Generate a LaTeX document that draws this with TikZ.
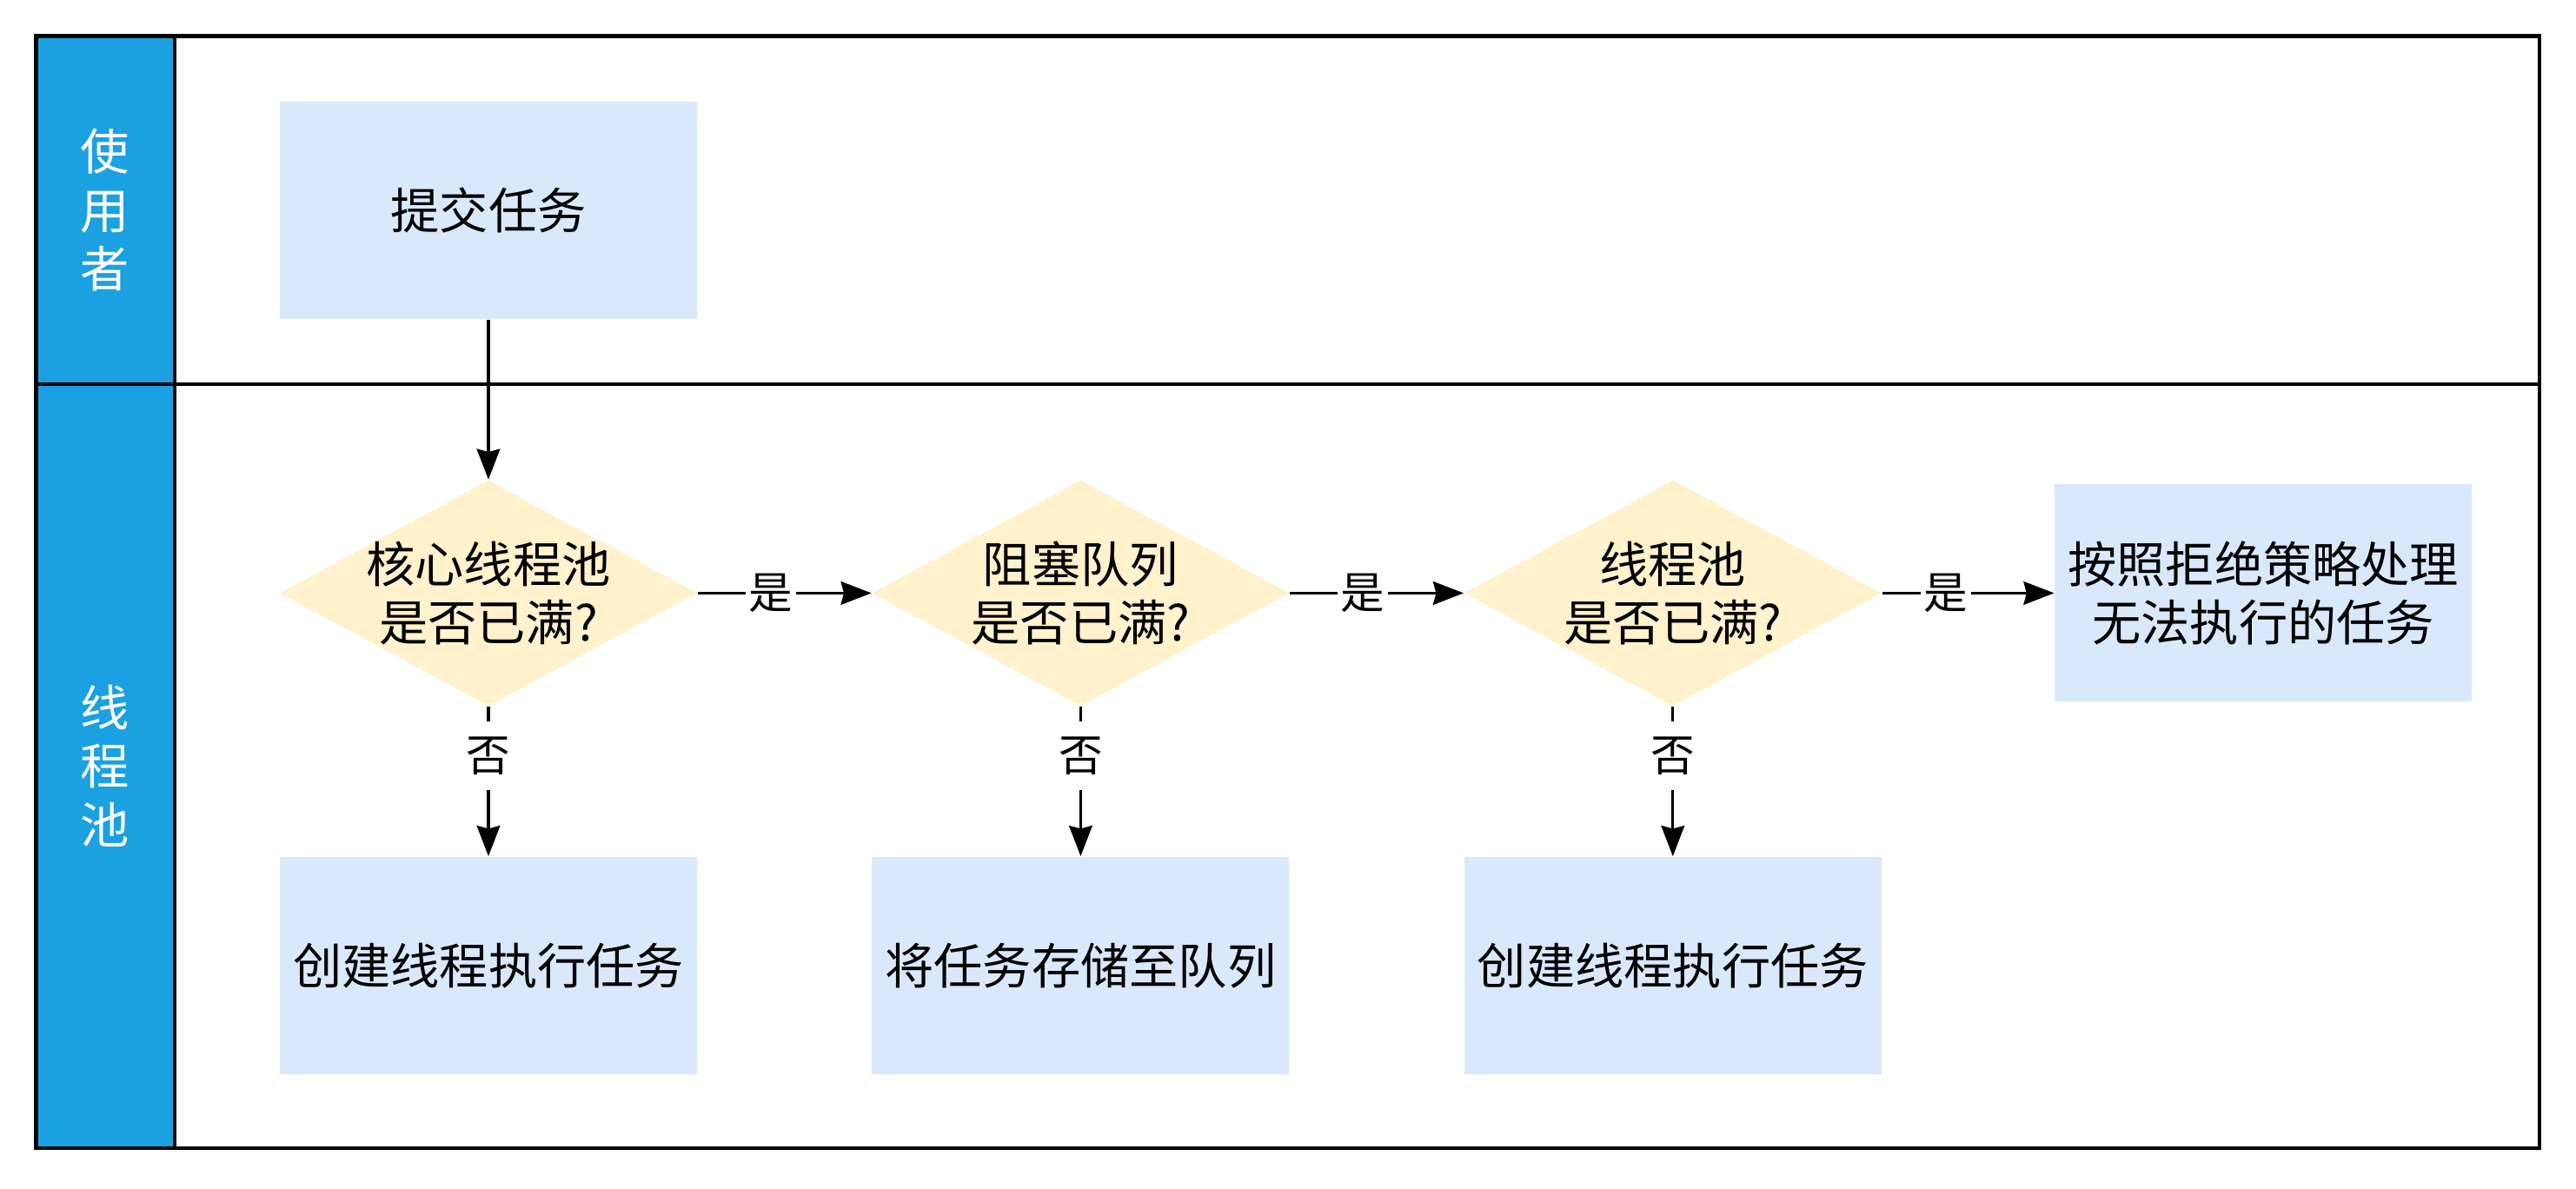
\documentclass[tikz,border=0pt]{standalone}
\usepackage{fontspec}
\setmainfont{Noto Sans CJK SC}
\usetikzlibrary{positioning,shapes.geometric,arrows.meta}

\definecolor{laneblue}{HTML}{1BA1E2}
\definecolor{taskfill}{HTML}{DAE8FC}
\definecolor{askfill}{HTML}{FFF2CC}

\begin{document}
\begin{tikzpicture}
        [font=\fontsize{16pt}{19.2pt}\selectfont,
        node distance=2cm,
        task/.style={rectangle, fill=taskfill, minimum width=4.8cm, minimum height=2.5cm, align=center, inner sep=0pt},
        ask/.style={diamond, fill=askfill, minimum width=4.8cm, minimum height=2.6cm, inner sep=0pt},
        lane/.style={text=white, align=center},
        flow/.style={-{Stealth[length=10pt,width=7.6pt,inset=1pt]}, line width=0.9pt},
        answer/.style={fill=white, font=\fontsize{14.4pt}{16pt}\selectfont, inner xsep=1pt, inner ysep=5pt},
        ]
        \useasboundingbox (0,0) rectangle (29.64,-13.68);
        % swimlanes
        \fill[laneblue] (0.416,-0.416) rectangle (2.01,-13.21);
        \draw[line width=1.2pt] (0.416,-0.416) rectangle (29.22,-13.21);
        \draw[line width=1.2pt] (2.01,-0.416) -- (2.01,-13.21);
        \draw[line width=1.2pt] (0.416,-4.42) -- (29.22,-4.42);
        \node[lane] (user) at (1.21,-2.42) {使\\用\\者};
        \node[lane] (pool) at (1.21,-8.81) {线\\程\\池};

        \node[task] (submit) at (5.62,-2.42) {提交任务};
        \node[ask, below=1.84cm of submit, label={[align=center]center:核心线程池\\是否已满?}] (core) {};
        \node[ask, right=of core, label={[align=center]center:阻塞队列\\是否已满?}] (queue) {};
        \node[ask, right=of queue, label={[align=center]center:线程池\\是否已满?}] (maxpool) {};
        \node[task, right=1.98cm of maxpool] (reject) {按照拒绝策略处理\\无法执行的任务};
        \node[task, below=1.72cm of core] (work1) {创建线程执行任务};
        \node[task, below=1.72cm of queue] (store) {将任务存储至队列};
        \node[task, below=1.72cm of maxpool] (work2) {创建线程执行任务};

        \draw[flow] (submit) -- (core);
        \draw[flow] (core) -- node[answer, pos=0.42] {是} (queue);
        \draw[flow] (queue) -- node[answer, pos=0.42] {是} (maxpool);
        \draw[flow] (maxpool) -- node[answer, pos=0.37] {是} (reject);
        \draw[flow] (core) -- node[answer, pos=0.33] {否} (work1);
        \draw[flow] (queue) -- node[answer, pos=0.33] {否} (store);
        \draw[flow] (maxpool) -- node[answer, pos=0.33] {否} (work2);
\end{tikzpicture}
\end{document}
